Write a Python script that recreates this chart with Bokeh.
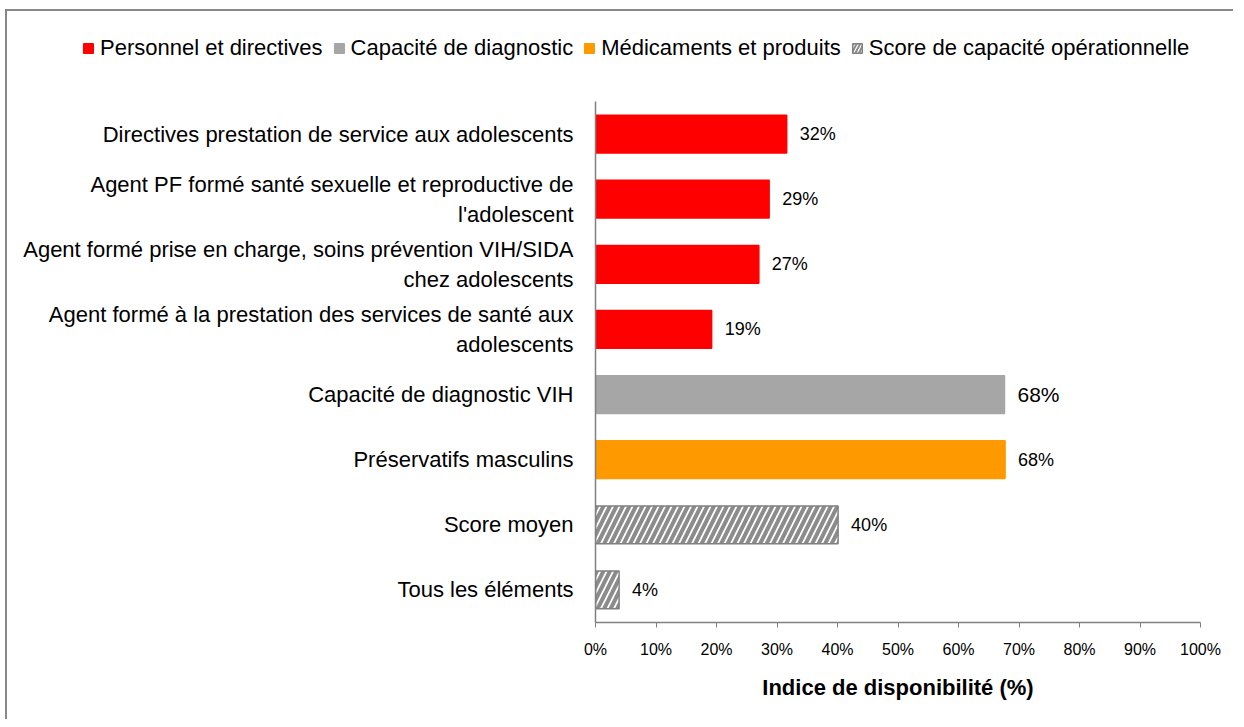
from bokeh.plotting import figure
from bokeh.models import ColumnDataSource, FactorRange, Range1d, FixedTicker, PrintfTickFormatter, Legend, LegendItem
from bokeh.embed import file_html
from bokeh.resources import INLINE
from bokeh.core.properties import value

# ---- data (top to bottom as shown) ----
categories = [
    "Directives prestation de service aux adolescents",
    "Agent PF formé santé sexuelle et reproductive de\nl'adolescent",
    "Agent formé prise en charge, soins prévention VIH/SIDA\nchez adolescents",
    "Agent formé à la prestation des services de santé aux\nadolescents",
    "Capacité de diagnostic VIH",
    "Préservatifs masculins",
    "Score moyen",
    "Tous les éléments",
]
values = [31.6, 28.7, 27.0, 19.2, 67.6, 67.7, 40.1, 3.9]
labels = ["32%", "29%", "27%", "19%", "68%", "68%", "40%", "4%"]
groups = ["Personnel et directives"] * 4 + ["Capacité de diagnostic"] + ["Médicaments et produits"] + ["Score de capacité opérationnelle"] * 2
group_order = ["Personnel et directives", "Capacité de diagnostic", "Médicaments et produits", "Score de capacité opérationnelle"]
x_ticks = list(range(0, 101, 10))

# ---- styles ----
FONT = "Liberation Sans"
styles = {
    "Personnel et directives": dict(fill_color="#FF0000", line_color="#FF0000", hatch_pattern=None),
    "Capacité de diagnostic": dict(fill_color="#A6A6A6", line_color="#A6A6A6", hatch_pattern=None),
    "Médicaments et produits": dict(fill_color="#FF9900", line_color="#FF9900", hatch_pattern=None),
    "Score de capacité opérationnelle": dict(fill_color="#FFFFFF", line_color="#808080", hatch_pattern="/"),
}
label_sizes = ["18px"] * 4 + ["21px"] + ["18px"] * 3


def bar_kwargs(g, scale=13, weight=4):
    st = styles[g]
    kw = dict(fill_color=st["fill_color"], line_color=st["line_color"], line_width=1.5)
    if st["hatch_pattern"]:
        kw.update(hatch_pattern=st["hatch_pattern"], hatch_color="#8C8C8C", hatch_scale=scale, hatch_weight=weight)
    return kw


W = 1228
BORDER = "2px solid #888888"

# ---- main chart ----
p = figure(
    width=W, height=628,
    y_range=FactorRange(factors=categories[::-1], range_padding=0),
    x_range=Range1d(0, 100),
    output_backend="svg", toolbar_location=None,
    min_border_left=588, min_border_right=35, min_border_top=10, min_border_bottom=97,
)
p.outline_line_color = None
p.xgrid.grid_line_color = None
p.ygrid.grid_line_color = None
p.styles = {"border-left": BORDER, "margin-left": "5px"}

# ---- legend strip (separate root so its frame spans the full width) ----
# its y range holds no bar category, so its renderers only feed the legend
lg = figure(width=W, height=82, x_range=Range1d(0, 100),
            y_range=FactorRange(factors=["legende"]),
            x_axis_location=None, y_axis_location=None,
            output_backend="svg", toolbar_location=None,
            min_border_left=0, min_border_right=0, min_border_top=0, min_border_bottom=0)
lg.grid.visible = False
lg.outline_line_color = None
lg.styles = {"border-left": BORDER, "border-top": BORDER, "margin-left": "5px", "margin-top": "9px"}

items = []
for g in group_order:
    idx = [i for i, gg in enumerate(groups) if gg == g]
    src = ColumnDataSource(dict(
        cat=[categories[i] for i in idx],
        val=[values[i] for i in idx],
        lab=[labels[i] for i in idx],
        size=[label_sizes[i] for i in idx],
    ))
    p.hbar(y="cat", right="val", left=0, height=0.58, source=src, **bar_kwargs(g))
    p.text(x="val", y="cat", text="lab", source=src, x_offset=13, text_baseline="middle",
           text_font=value(FONT), text_font_size="size", text_color="#000000")
    r = lg.hbar(y="cat", right="val", left=0, height=0.5, source=src, **bar_kwargs(g, scale=7, weight=2))
    items.append(LegendItem(label=g, renderers=[r]))

legend = Legend(items=items, orientation="horizontal", location=(75, 32),
                label_text_font=FONT, label_text_font_size="22px", label_text_color="#000000",
                glyph_width=12, glyph_height=12, label_standoff=6, spacing=10,
                padding=0, margin=0, border_line_color=None, background_fill_alpha=0)
lg.add_layout(legend, "center")

xa = p.xaxis[0]
xa.ticker = FixedTicker(ticks=x_ticks)
xa.formatter = PrintfTickFormatter(format="%d%%")
xa.axis_line_color = "#808080"
xa.axis_line_width = 1.5
xa.major_tick_line_color = "#808080"
xa.major_tick_in = 0
xa.major_tick_out = 5
xa.minor_tick_line_color = None
xa.major_label_text_font = FONT
xa.major_label_text_font_size = "16px"
xa.major_label_text_color = "#000000"
xa.major_label_standoff = 13
xa.axis_label = "Indice de disponibilité (%)"
xa.axis_label_text_font = FONT
xa.axis_label_text_font_size = "22px"
xa.axis_label_text_font_style = "bold"
xa.axis_label_text_color = "#000000"
xa.axis_label_standoff = 14

ya = p.yaxis[0]
ya.axis_line_color = "#808080"
ya.axis_line_width = 1.5
ya.major_tick_line_color = None
ya.major_tick_out = 0
ya.minor_tick_line_color = None
ya.major_label_text_font = FONT
ya.major_label_text_font_size = "22px"
ya.major_label_text_color = "#000000"
ya.major_label_standoff = 22

open("out.html", "w").write(file_html([lg, p], INLINE))
